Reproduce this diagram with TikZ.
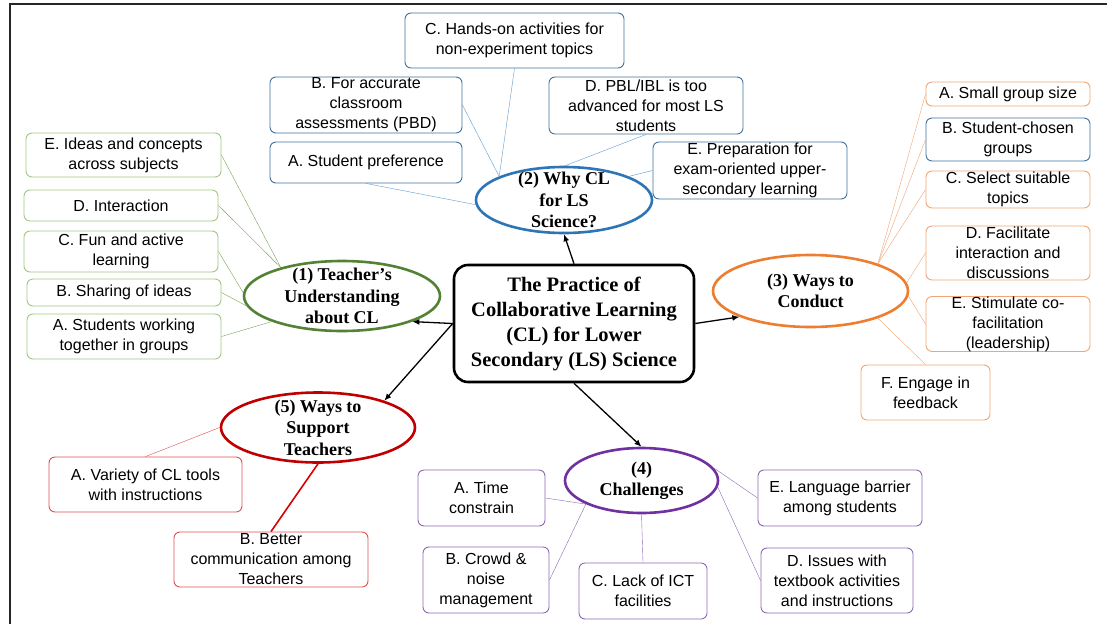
\documentclass[tikz,border=0pt]{standalone}
\usepackage{fontspec}
\setmainfont{Liberation Serif}
\newfontfamily\arialfont{Liberation Sans}
\usepackage{tikz}
\usetikzlibrary{arrows.meta, positioning, shapes.geometric}
\usepackage{xcolor}
\definecolor{darkgreen}{RGB}{84,130,53}
\definecolor{softgreen}{RGB}{160,200,130}
\definecolor{linegreen}{RGB}{120,165,85}
\definecolor{deepblue}{RGB}{46,117,182}
\definecolor{slateblue}{RGB}{65,113,156}
\definecolor{lineblue}{RGB}{91,155,213}
\definecolor{deeporange}{RGB}{237,125,49}
\definecolor{softorange}{RGB}{240,165,115}
\definecolor{deepred}{RGB}{192,0,0}
\definecolor{softred}{RGB}{222,80,80}
\definecolor{deeppurple}{RGB}{112,48,160}
\definecolor{softpurple}{RGB}{140,105,180}

\begin{document}
\begin{tikzpicture}[x=1pt, y=-1pt,
  leaf/.style={draw, rounded corners=6pt, line width=0.9pt, fill=white, align=center,
    inner xsep=3pt, inner ysep=0pt, font=\arialfont\fontsize{16}{20}\selectfont},
  hub/.style={ellipse, draw=#1, line width=2.6pt, fill=white, inner sep=0pt},
  hubtext/.style={align=center, inner sep=0pt, font=\bfseries\fontsize{18}{21.5}\selectfont},
  arr/.style={-{Latex[length=7pt,width=6pt]}, line width=1.3pt}]
  \useasboundingbox (0,0) rectangle (1107,624);
  % frame
  \draw[line width=2.5pt, black!85] (10,624) -- (10,4) -- (1107,4);

  % centre
  \node[draw, line width=2.6pt, rounded corners=14pt, minimum width=240, minimum height=117,
    align=center, fill=white, font=\bfseries\fontsize{20.5}{25}\selectfont] (core) at (574,323.5)
    {The Practice of\\Collaborative Learning\\(CL) for Lower\\Secondary (LS) Science};

  % (1) teacher's understanding
  \node[hub=darkgreen, minimum width=196, minimum height=70,
    label={[hubtext]center:{(1) Teacher's\\Understanding\\about CL}}] (teach) at (342,296) {};
  \node[leaf, draw=softgreen, minimum width=195, minimum height=44] (tE) at (123.5,155) {E. Ideas and concepts\\across subjects};
  \node[leaf, draw=softgreen, minimum width=194, minimum height=31] (tD) at (121,205.5) {D. Interaction};
  \node[leaf, draw=softgreen, minimum width=194, minimum height=41] (tC) at (121,251.5) {C. Fun and active\\learning};
  \node[leaf, draw=softgreen, minimum width=194, minimum height=27] (tB) at (124,292.5) {B. Sharing of ideas};
  \node[leaf, draw=softgreen, minimum width=194, minimum height=45] (tA) at (124,336.5) {A. Students working\\together in groups};
  \draw[linegreen] (tE.east) -- (teach.155);
  \draw[linegreen] (tD.east) -- (teach.155);
  \draw[linegreen] (tC.east) -- (teach.178);
  \draw[linegreen] (tB.east) -- (teach.186);
  \draw[linegreen] (tA.east) -- (teach.200);

  % (2) why CL
  \node[hub=deepblue, minimum width=176, minimum height=66,
    label={[hubtext]center:{(2) Why CL\\for LS\\Science?}}] (why) at (564,200) {};
  \node[leaf, draw=slateblue, minimum width=219, minimum height=55] (wC) at (514.5,40.5) {C. Hands-on activities for\\non-experiment topics};
  \node[leaf, draw=slateblue, minimum width=192, minimum height=56] (wB) at (366,105) {B. For accurate\\classroom\\assessments (PBD)};
  \node[leaf, draw=slateblue, minimum width=192, minimum height=41] (wA) at (366,162.5) {A. Student preference};
  \node[leaf, draw=slateblue, minimum width=194, minimum height=57] (wD) at (646,105.5) {D. PBL/IBL is too\\advanced for most LS\\students};
  \node[leaf, draw=slateblue, minimum width=194, minimum height=57] (wE) at (750,170.5) {E. Preparation for\\exam-oriented upper-\\secondary learning};
  \draw[lineblue] (wC.south) -- (why.160);
  \draw[lineblue] (wB.east) -- (why.160);
  \draw[lineblue] (wA.south) -- (why.183);
  \draw[lineblue] (wD.south) -- (why.88);
  \draw[lineblue] (wE.west) -- (why.20);

  % (3) ways to conduct
  \node[hub=deeporange, minimum width=195, minimum height=72,
    label={[hubtext]center:{(3) Ways to\\Conduct}}] (conduct) at (810.5,291) {};
  \node[leaf, draw=softorange, minimum width=164, minimum height=24] (cA) at (1008,94) {A. Small group size};
  \node[leaf, draw=slateblue, minimum width=164, minimum height=43] (cB) at (1008,139.5) {B. Student-chosen\\groups};
  \node[leaf, draw=softorange, minimum width=164, minimum height=37] (cC) at (1008,189.5) {C. Select suitable\\topics};
  \node[leaf, draw=softorange, minimum width=164, minimum height=54] (cD) at (1008,253) {D. Facilitate\\interaction and\\discussions};
  \node[leaf, draw=softorange, minimum width=164, minimum height=54] (cE) at (1008,324) {E. Stimulate co-\\facilitation\\(leadership)};
  \node[leaf, draw=softorange, minimum width=129, minimum height=55] (cF) at (925.5,392.5) {F. Engage in\\feedback};
  \draw[softorange] (cA.west) -- (conduct.22);
  \draw[softorange] (cB.west) -- (conduct.22);
  \draw[softorange] (cC.west) -- (conduct.22);
  \draw[softorange] (cD.west) -- (conduct.5);
  \draw[softorange] (cE.west) -- (conduct.-3);
  \draw[softorange] (cF.north) -- (conduct.-22);

  % (4) challenges
  \node[hub=deeppurple, minimum width=153, minimum height=65,
    label={[hubtext]center:{(4)\\Challenges}}] (chall) at (641.5,480.5) {};
  \node[leaf, draw=softpurple, minimum width=127, minimum height=56] (hA) at (481.5,498) {A. Time\\constrain};
  \node[leaf, draw=softpurple, minimum width=126, minimum height=66] (hB) at (486,580) {B. Crowd \&\\noise\\management};
  \node[leaf, draw=softpurple, minimum width=128, minimum height=56] (hC) at (643,591) {C. Lack of ICT\\facilities};
  \node[leaf, draw=softpurple, minimum width=152, minimum height=65] (hD) at (837,580.5) {D. Issues with\\textbook activities\\and instructions};
  \node[leaf, draw=softpurple, minimum width=164, minimum height=56] (hE) at (840,498) {E. Language barrier\\among students};
  \draw[softpurple] (hA.east) -- (chall.203);
  \draw[softpurple] (hB.east) -- (chall.203);
  \draw[softpurple] (chall.south) -- (hC.north);
  \draw[softpurple] (chall.10) -- (hE.west);
  \draw[softpurple] (chall.-5) -- (hD.west);

  % (5) support
  \node[hub=deepred, minimum width=194, minimum height=70,
    label={[hubtext]center:{(5) Ways to\\Support\\Teachers}}] (support) at (318,427.5) {};
  \node[leaf, draw=softred, minimum width=193, minimum height=55] (sA) at (145.5,484.5) {A. Variety of CL tools\\with instructions};
  \node[leaf, draw=softred, minimum width=194, minimum height=55] (sB) at (271,559.5) {B. Better\\communication among\\Teachers};
  \draw[softred] (sA.north) -- (support.west);
  \draw[red!85!black, line width=1.6pt] (support.south) -- (sB.north);

  % arrows from the centre
  \draw[arr] (core.north) -- (why.south);
  \draw[arr] (core.west) -- (teach.-20);
  \draw[arr] (core.west) -- (support.22);
  \draw[arr] (core.east) -- (conduct.200);
  \draw[arr] (core.south) -- (chall.north);
\end{tikzpicture}
\end{document}
